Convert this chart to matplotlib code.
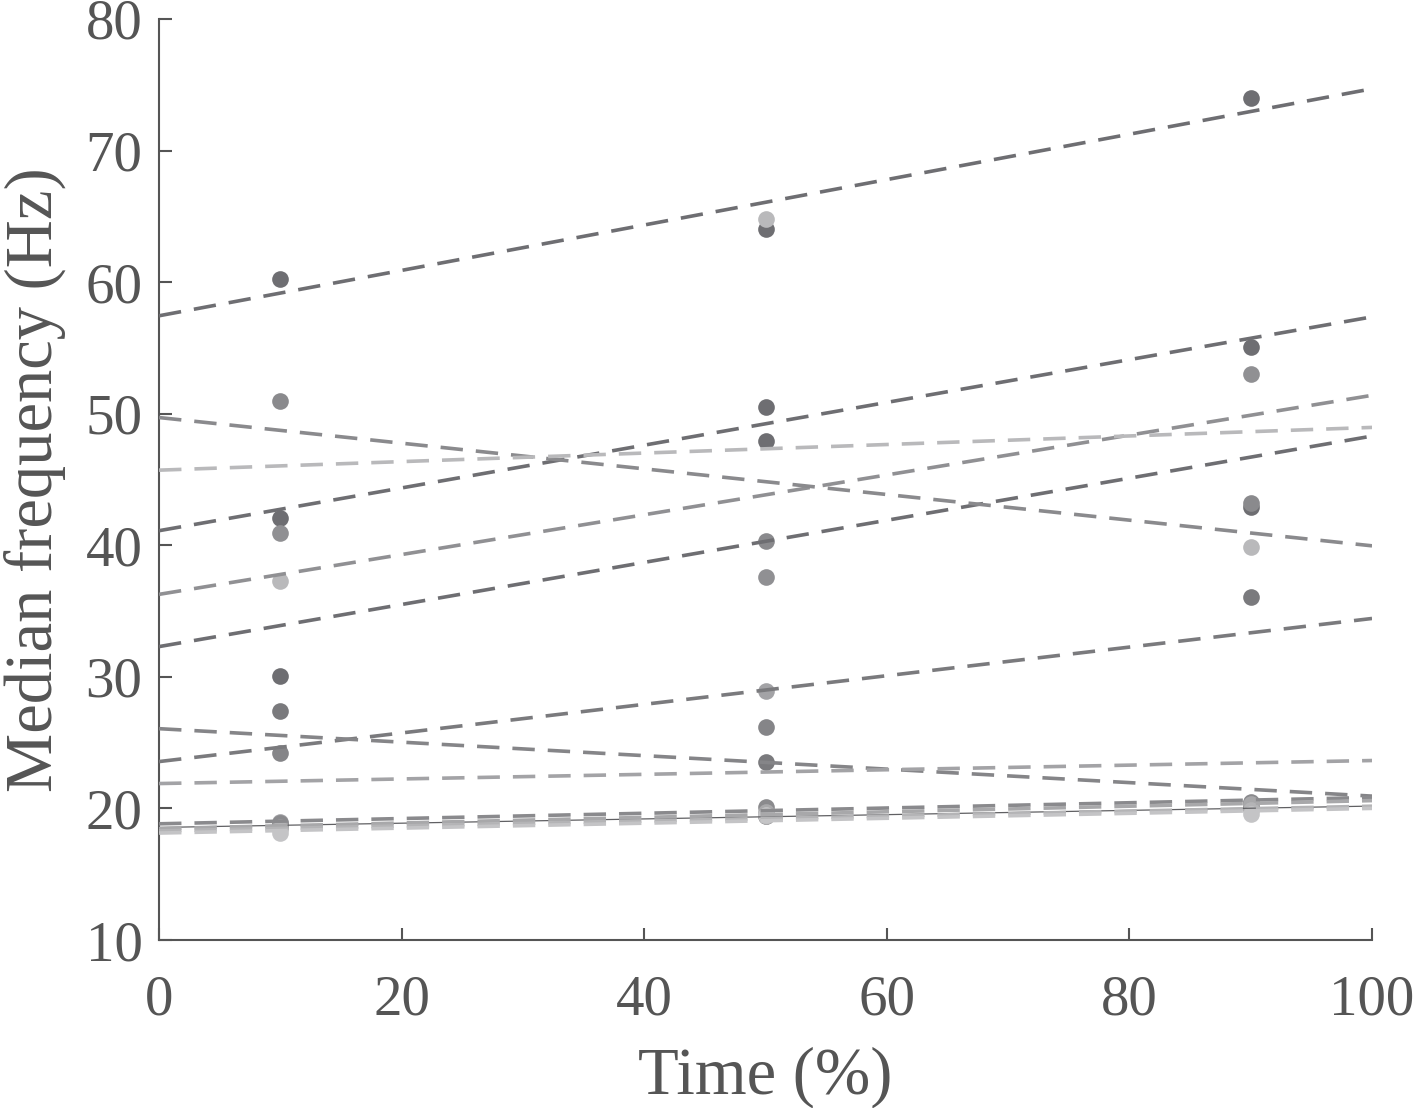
import numpy as np
import matplotlib.pyplot as plt

plt.rcParams['font.family'] = ['Liberation Serif', 'DejaVu Serif']

# === Data: median frequency (Hz) at 10, 50, 90 % of time, one row per subject ===
time_pct = [10, 50, 90]

subj_n = [18.7, 19.4, 20.0]
subj_a = [60.2, 64.0, 74.0]
subj_b = [42.1, 50.5, 55.1]
subj_c = [40.9, 37.6, 53.0]
subj_d = [30.1, 47.9, 42.9]
subj_e = [51.0, 40.3, 43.2]
subj_f = [37.3, 64.8, 39.9]
subj_g = [27.4, 23.5, 36.1]
subj_h = [24.2, 26.2, 20.1]
subj_i = [19.0, 28.9, 20.4]
subj_j = [18.9, 20.1, 20.5]
subj_k = [18.6, 19.7, 20.3]
subj_m = [18.4, 19.4, 19.9]
subj_l = [18.1, 19.5, 19.6]

subjects = [subj_n, subj_a, subj_b, subj_c, subj_d, subj_e, subj_f, subj_g,
            subj_h, subj_i, subj_j, subj_k, subj_m, subj_l]
colors = ['#606063', '#6e6e72', '#6e6e72', '#909093', '#6e6e72', '#8a8a8d', '#b9b9bb',
          '#7a7a7d', '#858588', '#a3a3a6', '#8a8a8d', '#a8a8aa', '#b4b4b6', '#c4c4c6']
styles = ['-'] + ['--'] * 13

# === Plot ===
fig = plt.figure(figsize=(14.24, 11.08), dpi=100)
ax = fig.add_axes([0.1117, 0.1516, 0.8518, 0.8313])

xfit = np.array([0, 100])
for vals, col, ls in zip(subjects, colors, styles):
    ax.plot(time_pct, vals, 'o', color=col, markersize=12, markeredgewidth=0, zorder=2)
    k, b = np.polyfit(time_pct, vals, 1)
    if ls == '--':
        ax.plot(xfit, k * xfit + b, color=col, linewidth=2.6,
                linestyle=(0, (6.2, 3.6)), zorder=3)
    else:
        ax.plot(xfit, k * xfit + b, color=col, linewidth=0.9, zorder=3)

ax.set_xlim(0, 100)
ax.set_ylim(10, 80)
ax.set_xticks(range(0, 101, 20))
ax.set_yticks(range(10, 81, 10))

axis_col = '#555555'
for side in ['top', 'right']:
    ax.spines[side].set_visible(False)
for side in ['left', 'bottom']:
    ax.spines[side].set_color(axis_col)
    ax.spines[side].set_linewidth(1.5)
ax.tick_params(direction='in', length=9, width=1.5, color=axis_col,
               labelcolor=axis_col, labelsize=41)
ax.tick_params(axis='y', pad=12)
ax.tick_params(axis='x', pad=25)

ax.set_xlabel("Time (%)", fontsize=48, color=axis_col, labelpad=14)
ax.set_ylabel("Median frequency (Hz)", fontsize=48, color=axis_col, labelpad=14)

fig.savefig("out.png", dpi=100)
